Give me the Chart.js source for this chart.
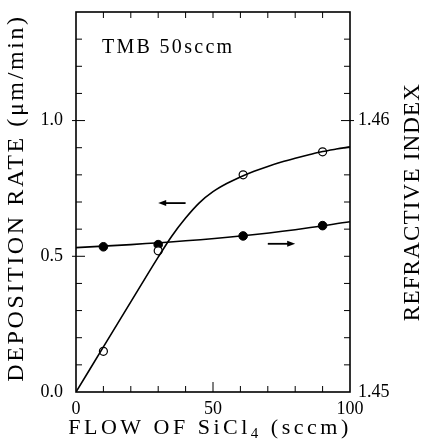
<!DOCTYPE html>
<html>
<head>
<meta charset="utf-8">
<script src="https://cdn.jsdelivr.net/npm/chart.js@4"></script>
<style>
  html, body { margin: 0; padding: 0; background: #fff; }
  canvas { display: block; }
</style>
</head>
<body>
<canvas id="chart" width="424" height="444"></canvas>
<script>
// measured points
const flowMeasured = [10, 30, 61, 90];
const rateMeasured = [0.15, 0.52, 0.80, 0.885];
const indexMeasured = [1.45535, 1.45543, 1.45575, 1.45613];

// fitted curves
const flowCurve = [0, 5, 10, 15, 20, 25, 30, 35, 40, 45, 50, 55, 60, 65, 70, 75, 80, 85, 90, 95, 100];
const rateCurve = [0, 0.083, 0.166, 0.249, 0.332, 0.415, 0.497, 0.575, 0.641, 0.697, 0.738, 0.768, 0.792, 0.813, 0.831, 0.847, 0.861, 0.874, 0.886, 0.895, 0.903];
const flowLine = [0, 20, 40, 60, 80, 100];
const indexLine = [1.45532, 1.45543, 1.45557, 1.45575, 1.45598, 1.45627];

// tick labels
const xTicks = [0, 50, 100];
const rateTicks = [0, 0.5, 1.0];
const indexTicks = [1.45, 1.46];

const serif = '"Liberation Serif", "DejaVu Serif", serif';

function pts(xs, ys) {
    return xs.map((x, i) => ({ x, y: ys[i] }));
}

function arrow(ctx, x1, x2, y) {
    const dir = Math.sign(x2 - x1);
    ctx.beginPath();
    ctx.moveTo(x1, y);
    ctx.lineTo(x2 - dir * 5, y);
    ctx.stroke();
    ctx.beginPath();
    ctx.moveTo(x2, y);
    ctx.lineTo(x2 - dir * 8, y - 3);
    ctx.lineTo(x2 - dir * 8, y + 3);
    ctx.closePath();
    ctx.fill();
}

const frameAndLabels = {
    id: 'frameAndLabels',
    afterDatasetsDraw(chart) {
        const { ctx, chartArea: a, scales } = chart;
        ctx.save();
        ctx.strokeStyle = '#000';
        ctx.fillStyle = '#000';

        // frame
        ctx.lineWidth = 1.6;
        ctx.strokeRect(a.left, a.top, a.right - a.left, a.bottom - a.top);

        // inward tick marks
        ctx.lineWidth = 1;
        ctx.beginPath();
        for (let i = 1; i < 10; i++) {
            const px = scales.x.getPixelForValue(i * 10);
            const len = i === 5 ? 10 : 6;
            ctx.moveTo(px, a.bottom);
            ctx.lineTo(px, a.bottom - len);
            ctx.moveTo(px, a.top);
            ctx.lineTo(px, a.top + 6);
        }
        for (let i = 1; i <= 13; i++) {
            const py = scales.y.getPixelForValue(i / 10);
            const major = i % 5 === 0;
            ctx.moveTo(a.left - (major ? 4 : 0), py);
            ctx.lineTo(a.left + (major ? 9 : 6), py);
        }
        for (let i = 1; i <= 13; i++) {
            const py = scales.y2.getPixelForValue(1.45 + i * 0.001);
            const major = i === 10;
            ctx.moveTo(a.right + (major ? 4 : 0), py);
            ctx.lineTo(a.right - (major ? 9 : 6), py);
        }
        ctx.stroke();

        // arrows telling which axis each curve uses
        ctx.lineWidth = 1.8;
        arrow(ctx, scales.x.getPixelForValue(40), scales.x.getPixelForValue(30), scales.y.getPixelForValue(0.696));
        arrow(ctx, scales.x.getPixelForValue(70), scales.x.getPixelForValue(80), scales.y.getPixelForValue(0.546));

        // annotation
        ctx.font = '20px ' + serif;
        ctx.letterSpacing = '2.3px';
        ctx.textAlign = 'left';
        ctx.textBaseline = 'alphabetic';
        ctx.fillText('TMB 50sccm', a.left + 26, a.top + 41);

        // x title with subscript
        const cx = (a.left + a.right) / 2 - 3;
        const base = 434;
        ctx.letterSpacing = '3.5px';
        const big = '22px ' + serif;
        const small = '15px ' + serif;
        ctx.font = big;
        const p1 = 'FLOW OF SiCl', p3 = ' (sccm)';
        const w1 = ctx.measureText(p1).width;
        const w3 = ctx.measureText(p3).width;
        ctx.font = small;
        const w2 = ctx.measureText('4').width;
        let x0 = cx - (w1 + w2 + w3) / 2;
        ctx.font = big;
        ctx.fillText(p1, x0, base);
        ctx.font = small;
        ctx.fillText('4', x0 + w1, base + 4);
        ctx.font = big;
        ctx.fillText(p3, x0 + w1 + w2, base);

        // y titles, both reading bottom to top
        ctx.textAlign = 'center';
        ctx.textBaseline = 'middle';
        const cy = (a.top + a.bottom) / 2;
        ctx.save();
        ctx.translate(17, cy - 4);
        ctx.rotate(-Math.PI / 2);
        ctx.font = '24px ' + serif;
        ctx.letterSpacing = '2.6px';
        ctx.fillText('DEPOSITION RATE (\u03bcm/min)', 0, 0);
        ctx.restore();

        ctx.save();
        ctx.translate(413, cy);
        ctx.rotate(-Math.PI / 2);
        ctx.font = '23px ' + serif;
        ctx.letterSpacing = '1.2px';
        ctx.fillText('REFRACTIVE INDEX', 0, 0);
        ctx.restore();

        ctx.restore();
    },
};

function fixY(width) {
    return s => {
        s.width = width;
        s.paddingTop = 0;
        s.paddingBottom = 0;
    };
}

new Chart(document.getElementById('chart'), {
    type: 'scatter',
    data: {
        datasets: [
            {
                label: 'rate fit',
                data: pts(flowCurve, rateCurve),
                yAxisID: 'y',
                showLine: true,
                cubicInterpolationMode: 'monotone',
                borderColor: '#000',
                borderWidth: 1.6,
                pointRadius: 0,
            },
            {
                label: 'rate',
                data: pts(flowMeasured, rateMeasured),
                yAxisID: 'y',
                pointRadius: 4,
                pointBorderWidth: 1.2,
                borderColor: '#000',
                backgroundColor: '#fff',
            },
            {
                label: 'index fit',
                data: pts(flowLine, indexLine),
                yAxisID: 'y2',
                showLine: true,
                cubicInterpolationMode: 'monotone',
                borderColor: '#000',
                borderWidth: 1.6,
                pointRadius: 0,
            },
            {
                label: 'index',
                data: pts(flowMeasured, indexMeasured),
                yAxisID: 'y2',
                pointRadius: 4.3,
                borderColor: '#000',
                backgroundColor: '#000',
            },
        ],
    },
    options: {
        responsive: false,
        animation: false,
        devicePixelRatio: 1,
        layout: { padding: { top: 12 } },
        plugins: {
            legend: { display: false },
            tooltip: { enabled: false },
        },
        scales: {
            x: {
                type: 'linear',
                min: 0,
                max: 100,
                afterBuildTicks: s => { s.ticks = xTicks.map(value => ({ value })); },
                afterFit: s => { s.height = 52; },
                grid: { display: false },
                border: { display: false },
                ticks: {
                    color: '#000',
                    font: { family: serif, size: 18 },
                    padding: -2,
                    maxRotation: 0,
                },
            },
            y: {
                type: 'linear',
                position: 'left',
                min: 0,
                max: 1.4,
                afterBuildTicks: s => { s.ticks = rateTicks.map(value => ({ value })); },
                afterFit: fixY(76),
                grid: { display: false },
                border: { display: false },
                ticks: {
                    color: '#000',
                    font: { family: serif, size: 18 },
                    padding: 5,
                    callback: v => v.toFixed(1),
                },
            },
            y2: {
                type: 'linear',
                position: 'right',
                min: 1.45,
                max: 1.4640,
                afterBuildTicks: s => { s.ticks = indexTicks.map(value => ({ value })); },
                afterFit: fixY(74),
                grid: { display: false },
                border: { display: false },
                ticks: {
                    color: '#000',
                    font: { family: serif, size: 18 },
                    padding: 0,
                    callback: v => v.toFixed(2),
                },
            },
        },
    },
    plugins: [frameAndLabels],
});
</script>
</body>
</html>
